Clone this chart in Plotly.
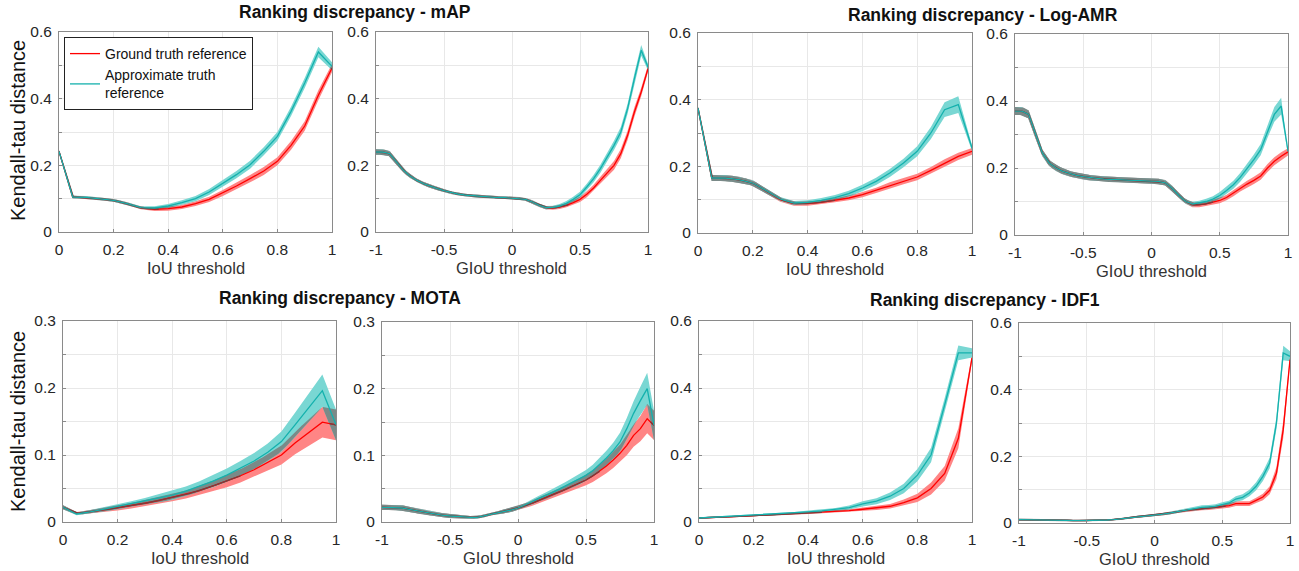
import numpy as np
import plotly.graph_objects as go

# ---------------- thresholds ----------------
IOU_T = [0, 0.05, 0.1, 0.15, 0.2, 0.25, 0.3, 0.35, 0.4, 0.45, 0.5,
         0.55, 0.6, 0.65, 0.7, 0.75, 0.8, 0.85, 0.9, 0.95, 1.0]
GIOU_T = [-1, -0.95, -0.9, -0.85, -0.8, -0.75, -0.7, -0.65, -0.6, -0.55, -0.5,
          -0.45, -0.4, -0.35, -0.3, -0.25, -0.2, -0.15, -0.1, -0.05, 0,
          0.05, 0.1, 0.15, 0.2, 0.25, 0.3, 0.35, 0.4, 0.45, 0.5,
          0.55, 0.6, 0.65, 0.7, 0.75, 0.8, 0.85, 0.9, 0.95, 1.0]

IOU_TICKS = [0, 0.2, 0.4, 0.6, 0.8, 1]
IOU_TICKTEXT = ["0", "0.2", "0.4", "0.6", "0.8", "1"]
GIOU_TICKS = [-1, -0.5, 0, 0.5, 1]
GIOU_TICKTEXT = ["-1", "-0.5", "0", "0.5", "1"]
Y6_TICKS = [0, 0.1, 0.2, 0.3, 0.4, 0.5, 0.6]
Y6_TICKTEXT = ["0", "", "0.2", "", "0.4", "", "0.6"]
Y3_TICKS = [0, 0.05, 0.1, 0.15, 0.2, 0.25, 0.3]
Y3_TICKTEXT = ["0", "", "0.1", "", "0.2", "", "0.3"]

# ---------------- mAP / IoU ----------------
map_iou_gt = [0.242, 0.105, 0.103, 0.100, 0.095, 0.085, 0.072, 0.068, 0.070, 0.075, 0.085,
              0.098, 0.117, 0.138, 0.160, 0.183, 0.212, 0.260, 0.318, 0.410, 0.492]
map_iou_gt_sd = [0.003, 0.004, 0.004, 0.004, 0.004, 0.004, 0.004, 0.005, 0.006, 0.006, 0.007,
                 0.008, 0.009, 0.010, 0.011, 0.012, 0.012, 0.013, 0.014, 0.015, 0.012]
map_iou_at = [0.242, 0.105, 0.104, 0.100, 0.095, 0.085, 0.073, 0.072, 0.078, 0.088, 0.100,
              0.120, 0.146, 0.172, 0.202, 0.242, 0.287, 0.362, 0.447, 0.540, 0.497]
map_iou_at_sd = [0.003, 0.004, 0.004, 0.004, 0.004, 0.004, 0.004, 0.005, 0.006, 0.007, 0.008,
                 0.009, 0.010, 0.011, 0.012, 0.012, 0.013, 0.014, 0.015, 0.016, 0.012]

# ---------------- mAP / GIoU ----------------
map_giou_gt = [0.240, 0.240, 0.235, 0.210, 0.185, 0.168, 0.155, 0.145, 0.137, 0.130, 0.124,
               0.118, 0.114, 0.111, 0.109, 0.107, 0.105, 0.104, 0.103, 0.103, 0.102,
               0.101, 0.098, 0.090, 0.080, 0.073, 0.072, 0.075, 0.080, 0.088, 0.098,
               0.113, 0.132, 0.155, 0.178, 0.200, 0.235, 0.290, 0.360, 0.420, 0.490]
map_giou_gt_sd = [0.008, 0.008, 0.008, 0.007, 0.006, 0.006, 0.005, 0.005, 0.005, 0.005, 0.004,
                  0.004, 0.004, 0.004, 0.004, 0.004, 0.004, 0.004, 0.004, 0.004, 0.004,
                  0.004, 0.004, 0.005, 0.005, 0.005, 0.005, 0.006, 0.006, 0.007, 0.008,
                  0.009, 0.010, 0.011, 0.012, 0.013, 0.014, 0.014, 0.014, 0.013, 0.010]
map_giou_at = [0.240, 0.240, 0.235, 0.210, 0.185, 0.168, 0.155, 0.145, 0.137, 0.130, 0.124,
               0.118, 0.114, 0.111, 0.109, 0.107, 0.105, 0.104, 0.103, 0.103, 0.102,
               0.101, 0.098, 0.090, 0.080, 0.073, 0.074, 0.078, 0.086, 0.098, 0.112,
               0.135, 0.160, 0.190, 0.225, 0.260, 0.300, 0.370, 0.460, 0.545, 0.495]
map_giou_at_sd = [0.008, 0.008, 0.008, 0.007, 0.006, 0.006, 0.005, 0.005, 0.005, 0.005, 0.004,
                  0.004, 0.004, 0.004, 0.004, 0.004, 0.004, 0.004, 0.004, 0.004, 0.004,
                  0.004, 0.004, 0.005, 0.005, 0.005, 0.005, 0.006, 0.007, 0.008, 0.009,
                  0.010, 0.011, 0.012, 0.013, 0.014, 0.015, 0.015, 0.016, 0.016, 0.010]

# ---------------- Log-AMR / IoU ----------------
amr_iou_gt = [0.375, 0.165, 0.165, 0.160, 0.150, 0.125, 0.100, 0.088, 0.088, 0.092, 0.098,
              0.105, 0.115, 0.128, 0.143, 0.155, 0.168, 0.188, 0.210, 0.230, 0.245]
amr_iou_gt_sd = [0.003, 0.009, 0.009, 0.009, 0.008, 0.007, 0.006, 0.006, 0.006, 0.006, 0.006,
                 0.007, 0.008, 0.008, 0.009, 0.009, 0.010, 0.010, 0.011, 0.011, 0.010]
amr_iou_at = [0.375, 0.165, 0.165, 0.160, 0.150, 0.125, 0.102, 0.090, 0.092, 0.098, 0.106,
              0.118, 0.135, 0.155, 0.180, 0.210, 0.245, 0.300, 0.370, 0.385, 0.255]
amr_iou_at_sd = [0.003, 0.009, 0.009, 0.009, 0.008, 0.007, 0.006, 0.006, 0.006, 0.007, 0.008,
                 0.009, 0.010, 0.011, 0.012, 0.013, 0.015, 0.018, 0.022, 0.025, 0.008]

# ---------------- Log-AMR / GIoU ----------------
amr_giou_gt = [0.370, 0.370, 0.360, 0.300, 0.245, 0.215, 0.200, 0.190, 0.183, 0.178, 0.174,
               0.171, 0.169, 0.167, 0.166, 0.165, 0.164, 0.163, 0.163, 0.162, 0.161,
               0.160, 0.156, 0.140, 0.118, 0.100, 0.090, 0.090, 0.093, 0.098, 0.103,
               0.112, 0.125, 0.140, 0.152, 0.163, 0.176, 0.200, 0.220, 0.235, 0.248]
amr_giou_gt_sd = [0.012, 0.012, 0.012, 0.011, 0.010, 0.009, 0.009, 0.009, 0.008, 0.008, 0.008,
                  0.008, 0.008, 0.008, 0.008, 0.008, 0.008, 0.008, 0.008, 0.008, 0.008,
                  0.008, 0.008, 0.008, 0.007, 0.007, 0.007, 0.007, 0.007, 0.007, 0.008,
                  0.008, 0.009, 0.010, 0.010, 0.011, 0.011, 0.012, 0.012, 0.012, 0.011]
amr_giou_at = [0.370, 0.370, 0.360, 0.300, 0.245, 0.215, 0.200, 0.190, 0.183, 0.178, 0.174,
               0.171, 0.169, 0.167, 0.166, 0.165, 0.164, 0.163, 0.163, 0.162, 0.161,
               0.160, 0.156, 0.140, 0.118, 0.100, 0.092, 0.095, 0.100, 0.107, 0.118,
               0.133, 0.150, 0.172, 0.197, 0.225, 0.255, 0.310, 0.360, 0.385, 0.250]
amr_giou_at_sd = [0.012, 0.012, 0.012, 0.011, 0.010, 0.009, 0.009, 0.009, 0.008, 0.008, 0.008,
                  0.008, 0.008, 0.008, 0.008, 0.008, 0.008, 0.008, 0.008, 0.008, 0.008,
                  0.008, 0.008, 0.008, 0.007, 0.007, 0.007, 0.007, 0.008, 0.009, 0.010,
                  0.011, 0.012, 0.013, 0.014, 0.015, 0.017, 0.020, 0.022, 0.025, 0.008]

# ---------------- MOTA / IoU ----------------
mota_iou_gt = [0.022, 0.013, 0.015, 0.018, 0.021, 0.024, 0.028, 0.032, 0.037, 0.041, 0.047,
               0.054, 0.061, 0.069, 0.078, 0.089, 0.100, 0.118, 0.133, 0.149, 0.145]
mota_iou_gt_sd = [0.003, 0.002, 0.003, 0.003, 0.004, 0.004, 0.005, 0.005, 0.006, 0.006, 0.007,
                  0.008, 0.009, 0.010, 0.011, 0.012, 0.014, 0.017, 0.020, 0.023, 0.023]
mota_iou_at = [0.022, 0.012, 0.015, 0.019, 0.023, 0.027, 0.031, 0.036, 0.040, 0.046, 0.053,
               0.061, 0.070, 0.080, 0.091, 0.104, 0.120, 0.145, 0.170, 0.196, 0.145]
mota_iou_at_sd = [0.003, 0.002, 0.003, 0.003, 0.004, 0.004, 0.005, 0.006, 0.007, 0.007, 0.008,
                  0.009, 0.010, 0.011, 0.012, 0.013, 0.015, 0.018, 0.021, 0.024, 0.023]

# ---------------- MOTA / GIoU ----------------
mota_giou_gt = [0.022, 0.022, 0.022, 0.021, 0.019, 0.017, 0.015, 0.013, 0.011, 0.010, 0.009,
                0.008, 0.007, 0.007, 0.007, 0.009, 0.012, 0.014, 0.016, 0.018, 0.021,
                0.024, 0.028, 0.032, 0.036, 0.041, 0.045, 0.049, 0.054, 0.058, 0.063,
                0.069, 0.076, 0.084, 0.093, 0.103, 0.115, 0.130, 0.140, 0.155, 0.145]
mota_giou_gt_sd = [0.004, 0.004, 0.004, 0.004, 0.004, 0.004, 0.003, 0.003, 0.003, 0.003, 0.003,
                   0.003, 0.002, 0.002, 0.002, 0.002, 0.002, 0.002, 0.003, 0.003, 0.003,
                   0.003, 0.004, 0.004, 0.005, 0.005, 0.006, 0.006, 0.007, 0.007, 0.008,
                   0.009, 0.010, 0.011, 0.012, 0.013, 0.015, 0.017, 0.019, 0.022, 0.022]
mota_giou_at = [0.022, 0.022, 0.022, 0.021, 0.019, 0.017, 0.015, 0.013, 0.011, 0.010, 0.009,
                0.008, 0.007, 0.007, 0.007, 0.009, 0.012, 0.014, 0.016, 0.018, 0.021,
                0.025, 0.030, 0.035, 0.039, 0.044, 0.049, 0.054, 0.059, 0.064, 0.070,
                0.077, 0.086, 0.096, 0.107, 0.120, 0.140, 0.163, 0.182, 0.200, 0.145]
mota_giou_at_sd = [0.004, 0.004, 0.004, 0.004, 0.004, 0.004, 0.003, 0.003, 0.003, 0.003, 0.003,
                   0.003, 0.002, 0.002, 0.002, 0.002, 0.002, 0.002, 0.003, 0.003, 0.003,
                   0.003, 0.004, 0.004, 0.005, 0.005, 0.006, 0.006, 0.007, 0.008, 0.008,
                   0.009, 0.010, 0.011, 0.012, 0.014, 0.016, 0.018, 0.021, 0.024, 0.022]

# ---------------- IDF1 / IoU ----------------
idf1_iou_gt = [0.012, 0.013, 0.015, 0.017, 0.019, 0.021, 0.023, 0.025, 0.027, 0.029, 0.031,
               0.034, 0.038, 0.042, 0.047, 0.058, 0.072, 0.100, 0.145, 0.250, 0.490]
idf1_iou_gt_sd = [0.002, 0.002, 0.002, 0.002, 0.002, 0.003, 0.003, 0.003, 0.003, 0.003, 0.004,
                  0.004, 0.005, 0.006, 0.007, 0.009, 0.012, 0.018, 0.022, 0.030, 0.010]
idf1_iou_at = [0.012, 0.014, 0.016, 0.018, 0.020, 0.022, 0.025, 0.027, 0.030, 0.033, 0.037,
               0.043, 0.054, 0.062, 0.077, 0.100, 0.140, 0.200, 0.350, 0.505, 0.505]
idf1_iou_at_sd = [0.002, 0.002, 0.002, 0.002, 0.002, 0.003, 0.003, 0.003, 0.004, 0.004, 0.005,
                  0.006, 0.008, 0.009, 0.011, 0.014, 0.018, 0.022, 0.020, 0.022, 0.014]

# ---------------- IDF1 / GIoU ----------------
idf1_giou_gt = [0.010, 0.010, 0.010, 0.010, 0.009, 0.009, 0.009, 0.008, 0.007, 0.007, 0.007,
                0.007, 0.008, 0.009, 0.010, 0.012, 0.016, 0.018, 0.020, 0.021, 0.023,
                0.026, 0.029, 0.033, 0.036, 0.039, 0.041, 0.043, 0.044, 0.046, 0.049,
                0.052, 0.058, 0.058, 0.058, 0.068, 0.078, 0.098, 0.150, 0.280, 0.490]
idf1_giou_gt_sd = [0.003, 0.003, 0.003, 0.003, 0.003, 0.003, 0.003, 0.003, 0.002, 0.002, 0.002,
                   0.002, 0.002, 0.002, 0.002, 0.003, 0.003, 0.003, 0.003, 0.003, 0.003,
                   0.003, 0.004, 0.004, 0.004, 0.004, 0.005, 0.005, 0.005, 0.005, 0.006,
                   0.006, 0.007, 0.007, 0.007, 0.008, 0.010, 0.012, 0.018, 0.025, 0.010]
idf1_giou_at = [0.010, 0.010, 0.010, 0.010, 0.009, 0.009, 0.009, 0.008, 0.007, 0.007, 0.007,
                0.007, 0.008, 0.009, 0.010, 0.012, 0.016, 0.018, 0.020, 0.021, 0.023,
                0.026, 0.029, 0.033, 0.036, 0.040, 0.043, 0.047, 0.048, 0.050, 0.055,
                0.060, 0.072, 0.077, 0.090, 0.110, 0.140, 0.180, 0.300, 0.510, 0.500]
idf1_giou_at_sd = [0.003, 0.003, 0.003, 0.003, 0.003, 0.003, 0.003, 0.003, 0.002, 0.002, 0.002,
                   0.002, 0.002, 0.002, 0.002, 0.003, 0.003, 0.003, 0.003, 0.003, 0.003,
                   0.003, 0.004, 0.004, 0.004, 0.004, 0.005, 0.006, 0.006, 0.006, 0.007,
                   0.007, 0.008, 0.009, 0.010, 0.012, 0.014, 0.016, 0.018, 0.022, 0.015]

TITLES = ["Ranking discrepancy - mAP", "Ranking discrepancy - Log-AMR",
          "Ranking discrepancy - MOTA", "Ranking discrepancy - IDF1"]
LEGEND_NAMES = ["Ground truth reference", "Approximate truth<br>reference"]

# ---------------- styling ----------------
W, H = 1299, 571
FONT = "Liberation Sans, Arial, Helvetica, sans-serif"
RED = "#ff0000"
RED_DARK = "#7a3c3c"
CYAN = "#14b1ad"
RED_BAND = "#ff8585"
CYAN_BAND = "#79d7d3"
OVERLAP = "#7a8a88"
TXT = "#262626"


def fx(px):
    return px / W


def fy(py):
    return 1 - py / H


# panel pixel boxes: (x0, x1, ytop, ybottom)
PANELS = [
    dict(x=IOU_T, gt=map_iou_gt, gsd=map_iou_gt_sd, at=map_iou_at, asd=map_iou_at_sd,
         box=(59, 332, 32, 232), kind="iou", ymax=0.6),
    dict(x=GIOU_T, gt=map_giou_gt, gsd=map_giou_gt_sd, at=map_giou_at, asd=map_giou_at_sd,
         box=(376, 648, 32, 232), kind="giou", ymax=0.6),
    dict(x=IOU_T, gt=amr_iou_gt, gsd=amr_iou_gt_sd, at=amr_iou_at, asd=amr_iou_at_sd,
         box=(698, 972, 33, 233), kind="iou", ymax=0.6),
    dict(x=GIOU_T, gt=amr_giou_gt, gsd=amr_giou_gt_sd, at=amr_giou_at, asd=amr_giou_at_sd,
         box=(1015, 1288, 34, 235), kind="giou", ymax=0.6),
    dict(x=IOU_T, gt=mota_iou_gt, gsd=mota_iou_gt_sd, at=mota_iou_at, asd=mota_iou_at_sd,
         box=(63, 336, 321, 522), kind="iou", ymax=0.3),
    dict(x=GIOU_T, gt=mota_giou_gt, gsd=mota_giou_gt_sd, at=mota_giou_at, asd=mota_giou_at_sd,
         box=(382, 654, 322, 522), kind="giou", ymax=0.3),
    dict(x=IOU_T, gt=idf1_iou_gt, gsd=idf1_iou_gt_sd, at=idf1_iou_at, asd=idf1_iou_at_sd,
         box=(699, 972, 321, 522), kind="iou", ymax=0.6),
    dict(x=GIOU_T, gt=idf1_giou_gt, gsd=idf1_giou_gt_sd, at=idf1_giou_at, asd=idf1_giou_at_sd,
         box=(1019, 1290, 323, 523), kind="giou", ymax=0.6),
]

fig = go.Figure()
layout = dict(
    width=W, height=H, margin=dict(l=0, r=0, t=0, b=0, autoexpand=False),
    paper_bgcolor="white", plot_bgcolor="white",
    font=dict(family=FONT, color=TXT, size=15),
    showlegend=True,
    legend=dict(x=fx(64), y=fy(37), xanchor="left", yanchor="top",
                bgcolor="white", bordercolor="#222222", borderwidth=1,
                font=dict(size=14, color="#111111"), tracegroupgap=0,
                itemwidth=30),
)


def poly(xs, upper, lower):
    return list(xs) + list(xs[::-1]), list(upper) + list(lower[::-1])


def runs(mask):
    out = []
    i, n = 0, len(mask)
    while i < n:
        if mask[i]:
            j = i
            while j + 1 < n and mask[j + 1]:
                j += 1
            out.append(slice(i, j + 1))
            i = j + 1
        else:
            i += 1
    return out


annotations = []
for k, p in enumerate(PANELS, start=1):
    xa = "x" if k == 1 else f"x{k}"
    ya = "y" if k == 1 else f"y{k}"
    x = np.array(p["x"], dtype=float)
    gt = np.array(p["gt"]); gsd = np.array(p["gsd"])
    at = np.array(p["at"]); asd = np.array(p["asd"])

    # red band
    px, py = poly(x, gt + gsd, gt - gsd)
    fig.add_trace(go.Scatter(x=px, y=py, xaxis=xa, yaxis=ya, fill="toself", mode="lines",
                             line=dict(width=0), fillcolor=RED_BAND, showlegend=False,
                             hoverinfo="skip"))
    # cyan band
    px, py = poly(x, at + asd, at - asd)
    fig.add_trace(go.Scatter(x=px, y=py, xaxis=xa, yaxis=ya, fill="toself", mode="lines",
                             line=dict(width=0), fillcolor=CYAN_BAND, showlegend=False,
                             hoverinfo="skip"))
    # overlap of the two bands (rendered as darker mix)
    sub = 20
    xd = np.concatenate([np.linspace(x[i], x[i + 1], sub, endpoint=False)
                         for i in range(len(x) - 1)] + [x[-1:]])
    a_lo = np.interp(xd, x, at - asd)
    a_hi = np.interp(xd, x, at + asd)
    lo = np.maximum(np.interp(xd, x, gt - gsd), a_lo)
    hi = np.minimum(np.interp(xd, x, gt + gsd), a_hi)
    for seg in runs(hi > lo):
        px, py = poly(xd[seg], hi[seg], lo[seg])
        fig.add_trace(go.Scatter(x=px, y=py, xaxis=xa, yaxis=ya, fill="toself", mode="lines",
                                 line=dict(width=0), fillcolor=OVERLAP, showlegend=False,
                                 hoverinfo="skip"))
    # red line
    fig.add_trace(go.Scatter(x=x, y=gt, xaxis=xa, yaxis=ya, mode="lines",
                             line=dict(color=RED, width=1.3), name=LEGEND_NAMES[0],
                             showlegend=(k == 1), legendrank=1))
    # red line where it is seen through the cyan band (darkened)
    g_d = np.interp(xd, x, gt)
    inside = (g_d >= a_lo) & (g_d <= a_hi)
    for seg in runs(inside):
        fig.add_trace(go.Scatter(x=xd[seg], y=g_d[seg], xaxis=xa, yaxis=ya, mode="lines",
                                 line=dict(color=RED_DARK, width=1.3), showlegend=False,
                                 hoverinfo="skip"))
    # cyan line
    fig.add_trace(go.Scatter(x=x, y=at, xaxis=xa, yaxis=ya, mode="lines",
                             line=dict(color=CYAN, width=1.3), name=LEGEND_NAMES[1],
                             showlegend=(k == 1), legendrank=2))

    x0, x1, yt, yb = p["box"]
    if p["kind"] == "iou":
        xr = [0, 1]; tv, tt = IOU_TICKS, IOU_TICKTEXT; xtitle = "IoU threshold"
    else:
        xr = [-1, 1]; tv, tt = GIOU_TICKS, GIOU_TICKTEXT; xtitle = "GIoU threshold"
    if p["ymax"] == 0.6:
        ytv, ytt = Y6_TICKS, Y6_TICKTEXT
    else:
        ytv, ytt = Y3_TICKS, Y3_TICKTEXT
    axkey = "xaxis" if k == 1 else f"xaxis{k}"
    aykey = "yaxis" if k == 1 else f"yaxis{k}"
    common = dict(showline=True, mirror=True, linecolor="#8a8a8a", linewidth=1,
                  showgrid=True, gridcolor="#e8e8e8", gridwidth=1, zeroline=False,
                  ticks="inside", ticklen=3, tickcolor="#8a8a8a",
                  tickfont=dict(size=15.5, color=TXT, family=FONT), fixedrange=True,
                  ticklabeloverflow="allow", automargin=False)
    layout[axkey] = dict(common, domain=[fx(x0), fx(x1)], anchor=ya, range=xr,
                         tickmode="array", tickvals=tv, ticktext=tt, ticklabelstandoff=3)
    layout[aykey] = dict(common, domain=[fy(yb), fy(yt)], anchor=xa,
                         range=[0, p["ymax"]], tickmode="array", tickvals=ytv, ticktext=ytt,
                         ticklabelstandoff=3)
    # x title
    annotations.append(dict(text=xtitle, x=fx((x0 + x1) / 2), y=fy(yb + 36),
                            xref="paper", yref="paper", showarrow=False,
                            xanchor="center", yanchor="middle",
                            font=dict(size=16.5, color="#333333", family=FONT)))

# y titles
for yc in (131, 422):
    annotations.append(dict(text="Kendall-tau distance", x=fx(18), y=fy(yc),
                            xref="paper", yref="paper", showarrow=False, textangle=-90,
                            xanchor="center", yanchor="middle",
                            font=dict(size=20, color="#111111", family=FONT)))
# panel group titles
for text, xc, yc in zip(TITLES, (355, 983, 340, 985), (12, 15, 298, 300)):
    annotations.append(dict(text="<b>" + text + "</b>", x=fx(xc), y=fy(yc),
                            xref="paper", yref="paper", showarrow=False,
                            xanchor="center", yanchor="middle",
                            font=dict(size=17.5, color="#111111", family=FONT)))

layout["annotations"] = annotations
fig.update_layout(**layout)
fig.write_html(
    "out.html",
    config={"displayModeBar": False},
    post_script="document.body.style.margin='0px';document.body.style.overflow='hidden';",
)
